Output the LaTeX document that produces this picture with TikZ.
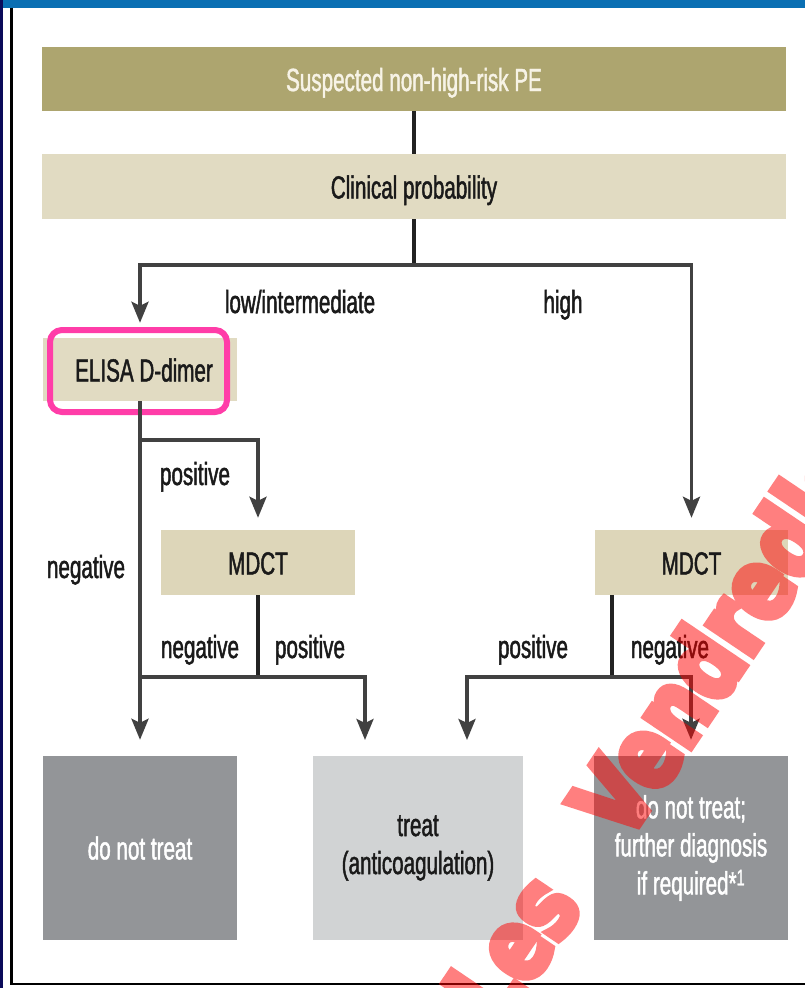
\documentclass[tikz,border=0pt]{standalone}
\usepackage{fontspec}
\setmainfont{Liberation Sans}
\newfontfamily\cond[FakeStretch=0.645, FakeBold=1.4]{Liberation Sans}
\newfontfamily\wmfont[FakeStretch=0.78, FakeBold=7, BoldFeatures={FakeStretch=0.78, FakeBold=7}]{DejaVu Sans}
\usetikzlibrary{arrows.meta}
\definecolor{cOlive}{HTML}{ADA56F}
\definecolor{cCream}{HTML}{F7F3E6}
\definecolor{cBeige}{HTML}{E1DBC2}
\definecolor{cBeigeB}{HTML}{DDD6B9}
\definecolor{cGray}{HTML}{939598}
\definecolor{cLight}{HTML}{D1D3D4}
\definecolor{cLine}{HTML}{414141}
\definecolor{cStem}{HTML}{222222}
\definecolor{cPink}{HTML}{FF3DA8}
\definecolor{cBlue}{HTML}{0A6FB3}
\definecolor{cNavy}{HTML}{0B0B5A}
\definecolor{cText}{HTML}{1A1A1A}
\begin{document}
\begin{tikzpicture}[x=1pt,y=-1pt,
  txt/.style={font={\cond\fontsize{32}{38}\selectfont}},
  box/.style={txt, rectangle, inner sep=0pt, text=cText},
  onel/.style={text height=25pt, text depth=1pt},
  line/.style={draw=cLine, line width=3.6pt, line join=miter},
  stem/.style={draw=cStem, line width=3.6pt},
  arr/.style={line, -{Stealth[length=21pt,width=17pt,inset=4pt]}},
  lab/.style={txt, anchor=base, inner sep=0pt, text=cText},
  wm/.style={font={\wmfont\bfseries\fontsize{100}{100}\selectfont}, text=red, inner sep=0pt}
]
\useasboundingbox (0,0) rectangle (805,988);
\fill[white] (0,0) rectangle (805,988);
% frame
\fill[cBlue] (0,0) rectangle (805,7.5);
\fill[cNavy] (0,0) rectangle (3,988);
\draw[black, line width=2.8pt] (11.5,7.5) -- (11.5,984) -- (805,984);

% boxes
\node[box, onel, fill=cOlive, text=cCream, minimum width=744pt, minimum height=64pt] (susp) at (414,79) {Suspected non-high-risk PE};
\node[box, onel, fill=cBeige, minimum width=744pt, minimum height=65pt] (clin) at (414,186.5) {Clinical probability};
\node[box, onel, fill=cBeige, minimum width=194pt, minimum height=63pt] (elisa) at (140,369.5) {\hspace*{8pt}ELISA D-dimer};
\node[box, onel, fill=cBeigeB, minimum width=194pt, minimum height=65pt] (mdctL) at (258,562.5) {MDCT};
\node[box, onel, fill=cBeigeB, minimum width=193pt, minimum height=65pt] (mdctR) at (691.5,562.5) {MDCT};
\node[box, fill=cGray, text=white, minimum width=194pt, minimum height=184pt, align=center] (notreat) at (140,848) {do not treat};
\node[box, fill=cLight, minimum width=210pt, minimum height=184pt, align=center] (treat) at (418,848) {treat\\(anticoagulation)};
\node[box, fill=cGray, text=white, minimum width=194pt, minimum height=184pt, align=center] (furth) at (691,848) {do not treat;\\further diagnosis\\if required*\textsuperscript{1}};

% highlight frame
\draw[cPink, line width=6pt, rounded corners=12pt] (50,330) rectangle (227,412);

% junctions
\coordinate (jA) at (414,265);
\coordinate (jE) at (140,440);
\coordinate (jL) at (258,677);
\coordinate (jR) at (612,677);
\coordinate (tL) at (365,756);
\coordinate (tR) at (467,756);

% connectors
\draw[stem] (susp) -- (clin);
\draw[stem] (clin) -- (jA);
\draw[arr, shorten >=15pt] (jA) -| (elisa);
\draw[arr, shorten >=12pt] (jA) -| (mdctR);
\draw[arr, shorten >=16pt] (elisa) -- (notreat);
\draw[arr, shorten >=12pt] (jE) -| (mdctL);
\draw[stem] (mdctL) -- (jL);
\draw[line] (jL) -- (jL -| elisa);
\draw[arr, shorten >=16pt] (jL) -| (tL);
\draw[stem] (mdctR.south -| jR) -- (jR);
\draw[arr, shorten >=16pt] (jR) -| (tR);
\draw[arr, shorten >=16pt] (jR) -| (furth);

% labels
\node[lab] (lLow) at (300,313) {low/intermediate};
\node[lab] (lHigh) at (563,313) {high};
\node[lab] (lPos1) at (195,485) {positive};
\node[lab] (lNeg1) at (86,578) {negative};
\node[lab] (lNeg2) at (200,658) {negative};
\node[lab] (lPos2) at (310,658) {positive};
\node[lab] (lPos3) at (533,658) {positive};
\node[lab] (lNeg3) at (670,658) {negative};

% watermark
\begin{scope}
\clip (0,0) rectangle (805,988);
\begin{scope}[transparency group, opacity=0.5]
\node[wm, rotate=56, anchor=base west] (wmark) at (500,1030) {Les\hspace{76pt}Vendredis};
\end{scope}
\end{scope}
\end{tikzpicture}
\end{document}
